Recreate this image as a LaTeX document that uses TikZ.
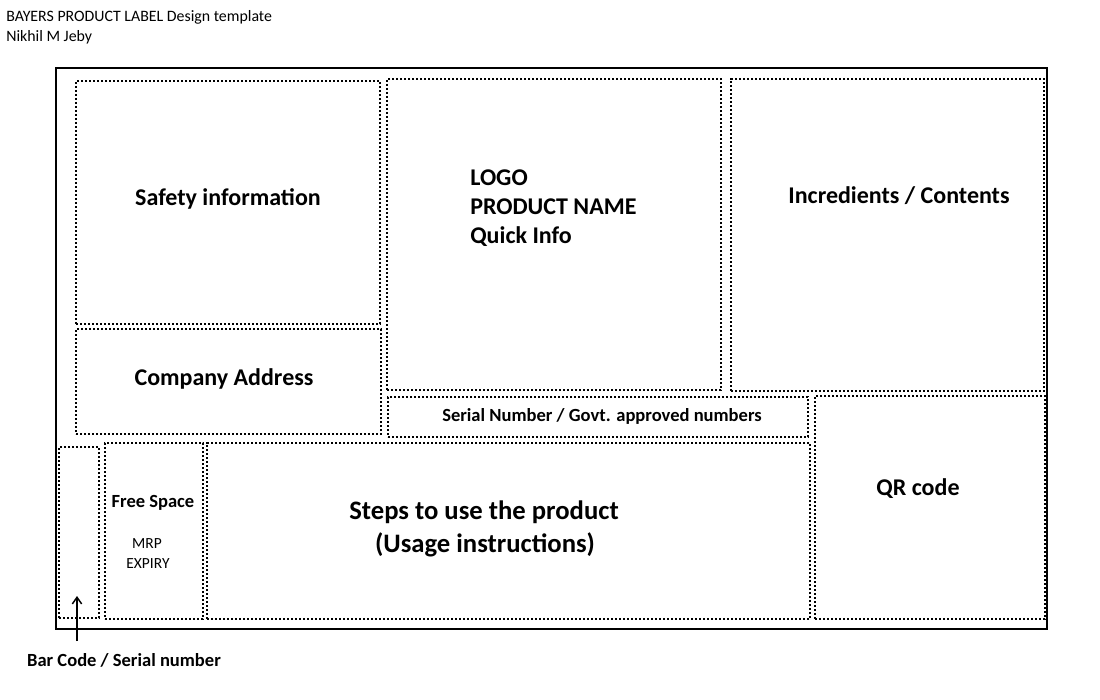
\documentclass[tikz,border=0pt]{standalone}
\usepackage{fontspec}
\setmainfont{Carlito}
\usetikzlibrary{fit,arrows.meta}
\begin{document}
\begin{tikzpicture}[x=0.75pt,y=-0.75pt,
  zone/.style={draw, line width=1.6pt, dash pattern=on 1.6pt off 1.4pt, inner sep=0pt},
  frame/.style={draw, line width=2pt, inner sep=0pt},
  big/.style={font=\bfseries\fontsize{18}{21}\selectfont, inner sep=0pt},
  huge/.style={font=\bfseries\fontsize{20}{24}\selectfont, inner sep=0pt},
  mid/.style={font=\bfseries\fontsize{13.9}{16}\selectfont, inner sep=0pt},
  small/.style={font=\fontsize{11.6}{14}\selectfont, inner sep=0pt},
  head/.style={font=\fontsize{11.9}{14}\selectfont, inner sep=0pt, anchor=west}]
\useasboundingbox[fill=white] (0,0) rectangle (1100,700);

% heading
\node[head] (title) at (6,17) {BAYERS PRODUCT LABEL Design template};
\node[head] (author) at (6,37) {Nikhil M Jeby};

% label outline
\node[frame, fit={(56,68) (1047,629)}] (label) {};

% zones
\node[zone, fit={(76,81) (380,324)}] (safety) {};
\node[zone, fit={(76,329) (381,434)}] (address) {};
\node[zone, fit={(387,79) (721,390)}] (brand) {};
\node[zone, fit={(731,79) (1044,391)}] (contents) {};
\node[zone, fit={(388,397) (808,437)}] (serial) {};
\node[zone, fit={(815,396) (1045,619)}] (qr) {};
\node[zone, fit={(59,447) (99,618)}] (barcode) {};
\node[zone, fit={(105,443) (203,619)}] (free) {};
\node[zone, fit={(207,443) (810,619)}] (steps) {};

% zone texts
\node[big] (tsafety) at (228,199) {Safety information};
\node[big, anchor=west] (tlogo) at (470,178) {LOGO};
\node[big, anchor=west] (tname) at (470,207) {PRODUCT NAME};
\node[big, anchor=west] (tinfo) at (470,237) {Quick Info};
\node[big] (tcontents) at (899,196) {Incredients / Contents};
\node[big] (taddress) at (224,379) {Company Address};
\node[mid] (tserial) at (602,416) {Serial Number / Govt. approved numbers};
\node[big] (tqr) at (918,489) {QR code};
\node[mid] (tfree) at (153,503) {Free Space};
\node[small] (tmrp) at (147,544) {MRP};
\node[small] (texpiry) at (148,564) {EXPIRY};
\node[huge] (tsteps) at (484,512) {Steps to use the product};
\node[huge] (tusage) at (485,545) {(Usage instructions)};

% bar code callout
\node[mid] (tbar) at (124,660) {Bar Code / Serial number};
\coordinate (arrowtip) at (77,596);
\coordinate (arrowfoot) at (77,641);
\draw[line width=1.1pt, -{Straight Barb[length=5pt,width=7pt]}] (arrowfoot) -- (arrowtip);
\end{tikzpicture}
\end{document}
